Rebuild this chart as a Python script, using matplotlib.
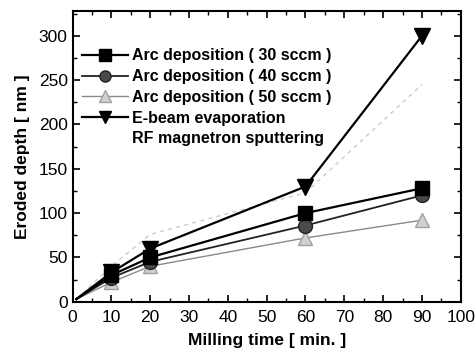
import matplotlib.pyplot as plt
from matplotlib.lines import Line2D

plt.rcParams['font.family'] = ['Liberation Sans', 'DejaVu Sans']

# data
time = [1, 10, 20, 60, 90]
arc30 = [3, 30, 50, 100, 128]
arc40 = [3, 27, 45, 86, 120]
arc50 = [3, 22, 40, 72, 92]
ebeam = [3, 33, 60, 130, 300]
rf = [3, 40, 76, 123, 245]

labels = ["Arc deposition ( 30 sccm )", "Arc deposition ( 40 sccm )",
          "Arc deposition ( 50 sccm )", "E-beam evaporation",
          "RF magnetron sputtering"]

fig = plt.figure(figsize=(4.77, 3.55), dpi=100)
ax = fig.add_axes([0.152, 0.150, 0.814, 0.819])

mk = [1, 2, 3, 4]  # no marker on the starting point
ax.plot(time, rf, color='#cccccc', lw=1, ls=(0, (3, 3)), zorder=1)
ax.plot(time, arc50, color='#8a8a8a', lw=1, marker='^', ms=10, markevery=mk,
        mfc='#d0d0d0', mec='#a0a0a0', zorder=2)
ax.plot(time, arc40, color='#222222', lw=1.3, marker='o', ms=10, markevery=mk,
        mfc='#4a4a4a', mec='#222222', zorder=3)
ax.plot(time, arc30, color='black', lw=1.6, marker='s', ms=10, markevery=mk, zorder=4)
ax.plot(time, ebeam, color='black', lw=1.6, marker='v', ms=11, markevery=mk, zorder=5)

handles = [
    Line2D([], [], color='black', lw=1.6, marker='s', ms=8),
    Line2D([], [], color='#222222', lw=1.3, marker='o', ms=8, mfc='#4a4a4a', mec='#222222'),
    Line2D([], [], color='#8a8a8a', lw=1, marker='^', ms=8, mfc='#d0d0d0', mec='#a0a0a0'),
    Line2D([], [], color='black', lw=1.6, marker='v', ms=9),
    Line2D([], [], color='white', lw=1),
]
leg = ax.legend(handles, labels, loc='upper left', bbox_to_anchor=(-0.005, 0.91),
                frameon=False, handlelength=2.9, handletextpad=0.25,
                labelspacing=0.36, borderaxespad=0.3,
                prop={'weight': 'bold', 'size': 11.5})

ax.set_xlim(0, 100)
ax.set_ylim(0, 328)
ax.set_xticks(range(0, 101, 10))
ax.set_xticks(range(5, 100, 10), minor=True)
ax.set_yticks(range(0, 301, 50))
ax.set_yticks(range(25, 326, 50), minor=True)
ax.tick_params(which='both', direction='in', top=True, right=True, labelsize=12.5)
ax.tick_params(which='major', length=5, width=1.2)
ax.tick_params(which='minor', length=3, width=1)
ax.tick_params(axis='x', pad=6)
for s in ax.spines.values():
    s.set_linewidth(1.5)

ax.set_xlabel("Milling time [ min. ]", fontweight='bold', fontsize=12.5, labelpad=6)
ax.set_ylabel("Eroded depth [ nm ]", fontweight='bold', fontsize=12.5, labelpad=6)

fig.savefig("out.png", dpi=100)
